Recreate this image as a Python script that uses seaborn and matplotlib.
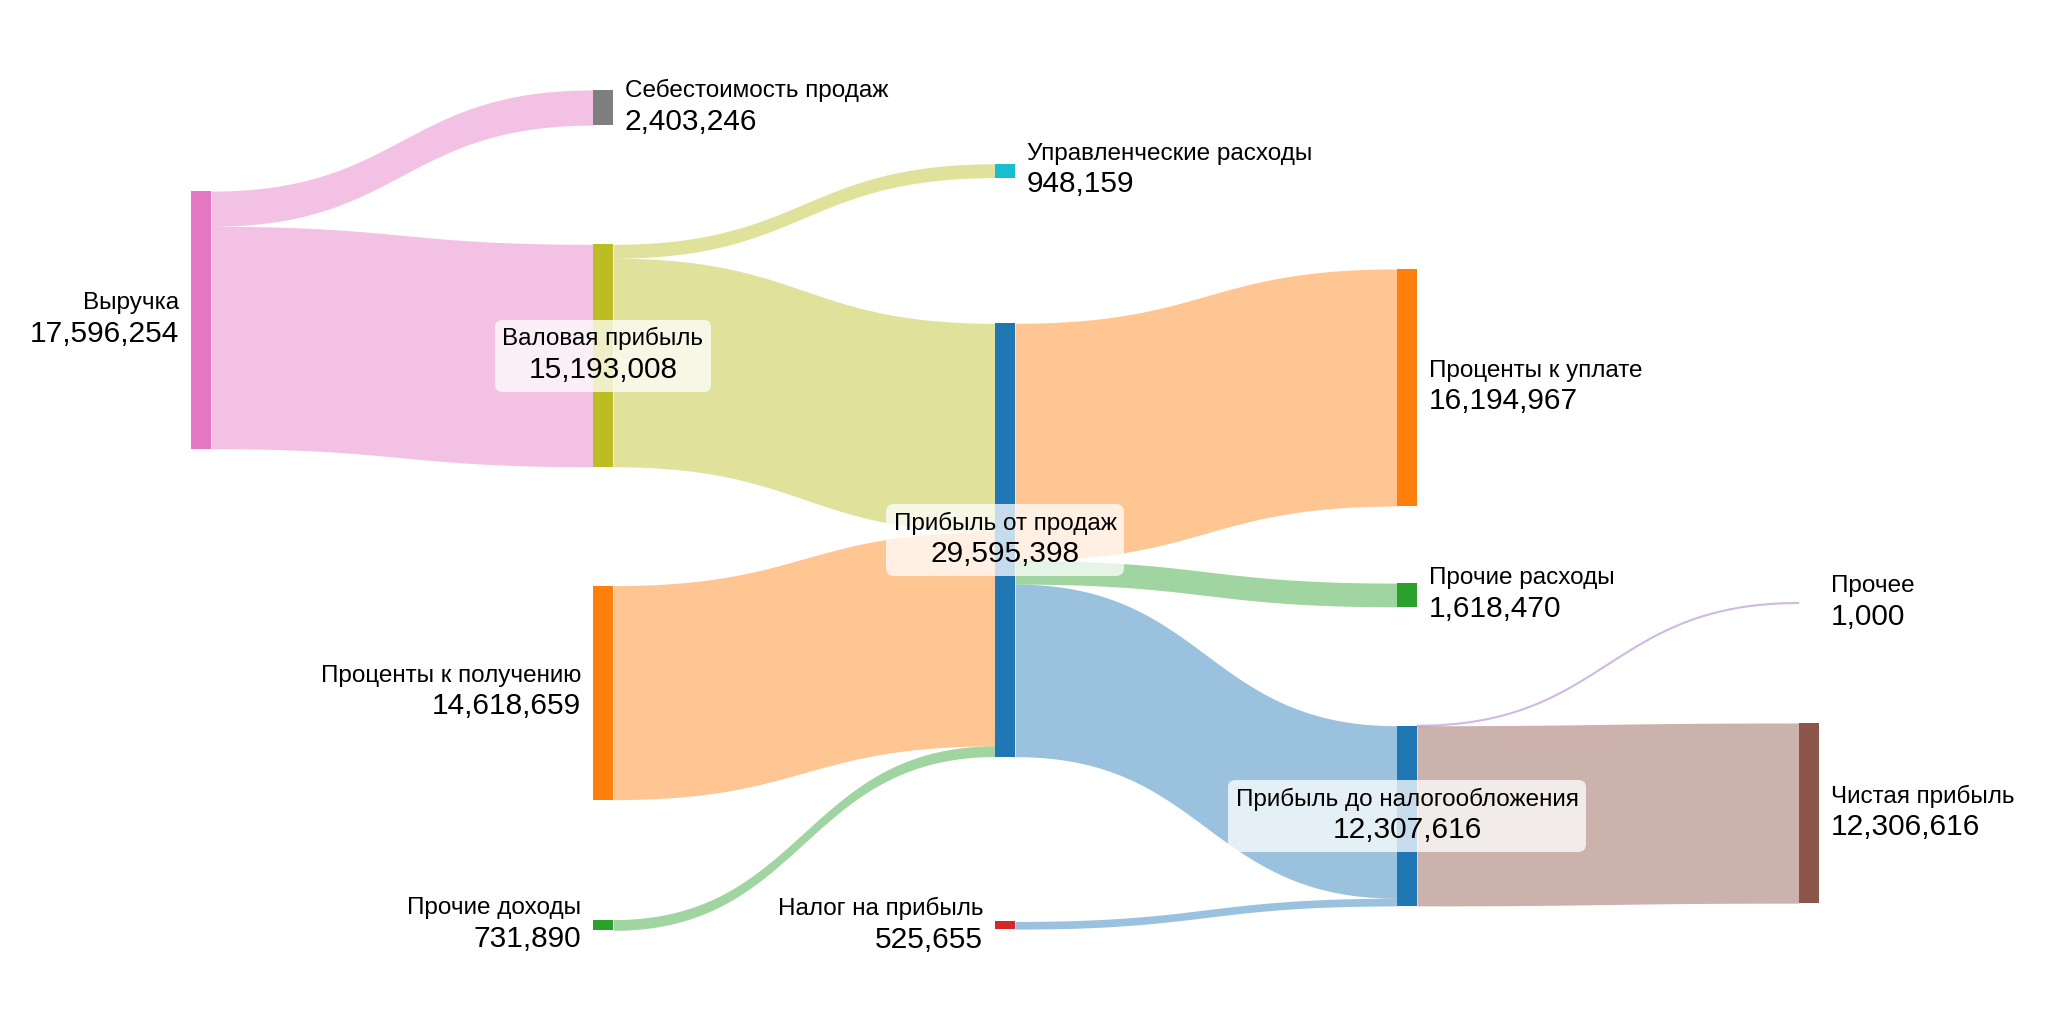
import numpy as np
import matplotlib
matplotlib.use("Agg")
import matplotlib.pyplot as plt
from matplotlib.offsetbox import TextArea, VPacker, AnnotationBbox
import seaborn as sns

# --- data ---
node_names = [
    "Выручка", "Себестоимость продаж", "Валовая прибыль", "Управленческие расходы",
    "Прибыль от продаж", "Проценты к получению", "Прочие доходы", "Налог на прибыль",
    "Проценты к уплате", "Прочие расходы", "Прибыль до налогообложения", "Прочее",
    "Чистая прибыль",
]
link_source = [0, 0, 2, 2, 5, 6, 4, 4, 4, 7, 10, 10]
link_target = [1, 2, 3, 4, 4, 4, 8, 9, 10, 10, 11, 12]
link_value = [2403246, 15193008, 948159, 14244849, 14618659, 731890,
              16194967, 1618470, 11781961, 525655, 1000, 12306616]

# --- layout / style ---
node_col = [0, 1, 1, 2, 2, 1, 1, 2, 3, 3, 3, 4, 4]
node_yc = [0.3124, 0.105, 0.3472, 0.1667, 0.5273, 0.6764, 0.9033, 0.9036,
           0.3784, 0.581, 0.7967, 0.5889, 0.794]
pal = dict(zip(["blue", "orange", "green", "red", "purple", "brown", "pink", "gray", "olive", "cyan"],
               sns.color_palette("tab10")))
node_color = [pal[c] for c in ["pink", "gray", "olive", "cyan", "blue", "orange", "green",
                               "red", "orange", "green", "blue", "purple", "brown"]]
link_color = [pal[c] for c in ["pink", "pink", "olive", "olive", "orange", "green",
                               "orange", "green", "blue", "blue", "purple", "brown"]]

W, H = 2048, 1024
val_per_px = 68300.0
col_px = 402.0
node_w = 20.0 / col_px
x_left = -191.0 / col_px
y_total = H * val_per_px

sns.set_theme(style="white")
plt.rcParams["font.family"] = ["Liberation Sans", "DejaVu Sans"]

fig = plt.figure(figsize=(W / 100, H / 100), dpi=100)
ax = fig.add_axes([0, 0, 1, 1])
ax.set_xlim(x_left, x_left + W / col_px)
ax.set_ylim(y_total, 0)
ax.axis("off")

n = len(node_names)
inflow = np.zeros(n)
outflow = np.zeros(n)
for s, t, v in zip(link_source, link_target, link_value):
    outflow[s] += v
    inflow[t] += v
node_val = np.maximum(inflow, outflow)
node_top = np.array(node_yc) * y_total - node_val / 2

# links
out_off = node_top.copy()
in_off = node_top.copy()
tt = np.linspace(0, 1, 120)
for s, t, v, c in zip(link_source, link_target, link_value, link_color):
    x0 = node_col[s] + node_w
    x1 = node_col[t]
    xs = x0 + (x1 - x0) * (1.5 * tt - 1.5 * tt ** 2 + tt ** 3)
    ease = 3 * tt ** 2 - 2 * tt ** 3
    y0, y1 = out_off[s], in_off[t]
    top = y0 + (y1 - y0) * ease
    if v / val_per_px < 1.0:
        ax.plot(xs, top + v / 2, color=c, alpha=0.45, lw=1.5, solid_capstyle="butt")
    else:
        ax.fill_between(xs, top, top + v, color=c, alpha=0.45, lw=0)
    out_off[s] += v
    in_off[t] += v

# nodes
for i in range(n):
    ax.bar(node_col[i], node_val[i], width=node_w, bottom=node_top[i],
           align="edge", color=node_color[i], lw=0)

# labels
gap = 12.0 / col_px
for i in range(n):
    name = TextArea(node_names[i], textprops=dict(fontsize=17.5, color="black"))
    val = TextArea(f"{int(node_val[i]):,}", textprops=dict(fontsize=21.5, color="black"))
    yc = node_yc[i] * y_total
    if inflow[i] == 0:
        pack = VPacker(children=[name, val], align="right", pad=0, sep=4)
        ab = AnnotationBbox(pack, (node_col[i] - gap, yc), box_alignment=(1, 0.5),
                            frameon=False, pad=0)
    elif outflow[i] == 0:
        pack = VPacker(children=[name, val], align="left", pad=0, sep=4)
        ab = AnnotationBbox(pack, (node_col[i] + node_w + gap, yc), box_alignment=(0, 0.5),
                            frameon=False, pad=0)
    else:
        pack = VPacker(children=[name, val], align="center", pad=0, sep=4)
        ab = AnnotationBbox(pack, (node_col[i] + node_w / 2, yc), box_alignment=(0.5, 0.5),
                            frameon=True, pad=0.5,
                            bboxprops=dict(boxstyle="round,pad=0.5,rounding_size=0.5",
                                           fc="white", ec="none", alpha=0.75))
    ax.add_artist(ab)

fig.savefig("out.png", dpi=100)
